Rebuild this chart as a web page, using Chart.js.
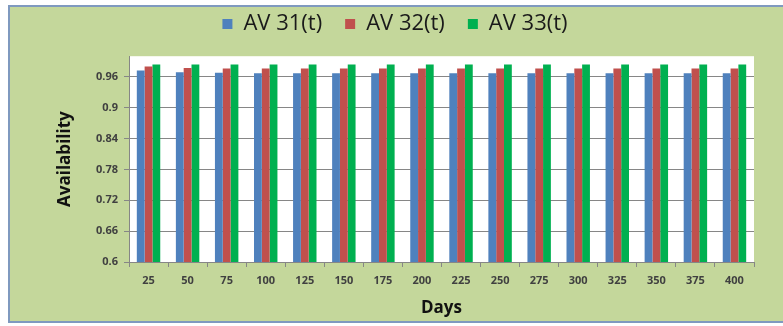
<!DOCTYPE html>
<html>
<head>
<meta charset="utf-8">
<script src="https://cdn.jsdelivr.net/npm/chart.js@4.4.0/dist/chart.umd.min.js"></script>
<style>
  html, body { margin: 0; padding: 0; background: #fff; }
  #wrap { position: relative; width: 783px; height: 326px; overflow: hidden; }
  #panel {
    position: absolute; left: 8px; top: 5px; width: 800px; height: 314px;
    background: #c4d79b; border: 2px solid #7f99bf;
  }
  #chart { position: absolute; left: 0; top: 0; }
</style>
</head>
<body>
<div id="wrap">
  <div id="panel"></div>
  <canvas id="chart" width="783" height="326"></canvas>
</div>
<script>
// data
const days = ['25', '50', '75', '100', '125', '150', '175', '200', '225', '250', '275', '300', '325', '350', '375', '400'];
const av31 = [0.972, 0.969, 0.968, 0.967, 0.967, 0.967, 0.967, 0.967, 0.967, 0.967, 0.967, 0.967, 0.967, 0.967, 0.967, 0.967];
const av32 = [0.980, 0.977, 0.976, 0.976, 0.976, 0.976, 0.976, 0.976, 0.976, 0.976, 0.976, 0.976, 0.976, 0.976, 0.976, 0.976];
const av33 = [0.984, 0.984, 0.984, 0.984, 0.984, 0.984, 0.984, 0.984, 0.984, 0.984, 0.984, 0.984, 0.984, 0.984, 0.984, 0.984];
const yTicks = [0.6, 0.66, 0.72, 0.78, 0.84, 0.9, 0.96];

const tickFont = { family: 'Open Sans', size: 11, weight: 'bold' };
const titleFont = { family: 'Open Sans', size: 17, weight: 'bold' };

// white plot area
const plotBg = {
  id: 'plotBg',
  beforeDraw(chart) {
    const a = chart.chartArea;
    const ctx = chart.ctx;
    ctx.save();
    ctx.fillStyle = '#ffffff';
    ctx.fillRect(a.left, a.top, a.right - a.left, a.bottom - a.top);
    ctx.restore();
  }
};

new Chart(document.querySelector('#chart').getContext('2d'), {
  type: 'bar',
  data: {
    labels: days,
    datasets: [
      { label: 'AV 31(t)', data: av31, backgroundColor: '#4f81bd' },
      { label: 'AV 32(t)', data: av32, backgroundColor: '#c0504d' },
      { label: 'AV 33(t)', data: av33, backgroundColor: '#00b050' }
    ]
  },
  options: {
    responsive: false,
    animation: false,
    layout: { padding: { left: 36, right: 29, top: -10, bottom: 8 } },
    datasets: { bar: { categoryPercentage: 0.6, barPercentage: 1.0 } },
    plugins: {
      tooltip: { enabled: false },
      legend: {
        position: 'top',
        labels: {
          boxWidth: 10, boxHeight: 10, padding: 23,
          color: '#1a1a1a',
          font: { family: 'Open Sans', size: 22 }
        }
      },
      // empty spacer between legend and plot
      subtitle: {
        display: true, text: '', weight: 500,
        font: { size: 1 }, padding: { top: 10, bottom: 0 }
      }
    },
    scales: {
      x: {
        grid: { drawOnChartArea: false, drawTicks: true, tickLength: 5, color: '#868686', offset: true },
        border: { color: '#868686', width: 1 },
        ticks: { color: '#404040', font: tickFont, padding: 7, maxRotation: 0, autoSkip: false },
        title: { display: true, text: 'Days', color: '#111', font: titleFont, padding: { top: 4, bottom: 0 } },
        afterFit: s => { s.height = 56; }
      },
      y: {
        min: 0.6,
        max: 1.0,
        afterBuildTicks: s => { s.ticks = yTicks.map(v => ({ value: v })); },
        grid: { color: '#868686', tickLength: 5 },
        border: { color: '#868686', width: 1 },
        ticks: {
          color: '#404040', font: tickFont, padding: 6,
          callback: v => String(Math.round(v * 100) / 100)
        },
        title: { display: true, text: 'Availability', color: '#111', font: titleFont, padding: { top: 19, bottom: 0 } },
        afterFit: s => { s.width = 93; }
      }
    }
  },
  plugins: [plotBg]
});
</script>
</body>
</html>
